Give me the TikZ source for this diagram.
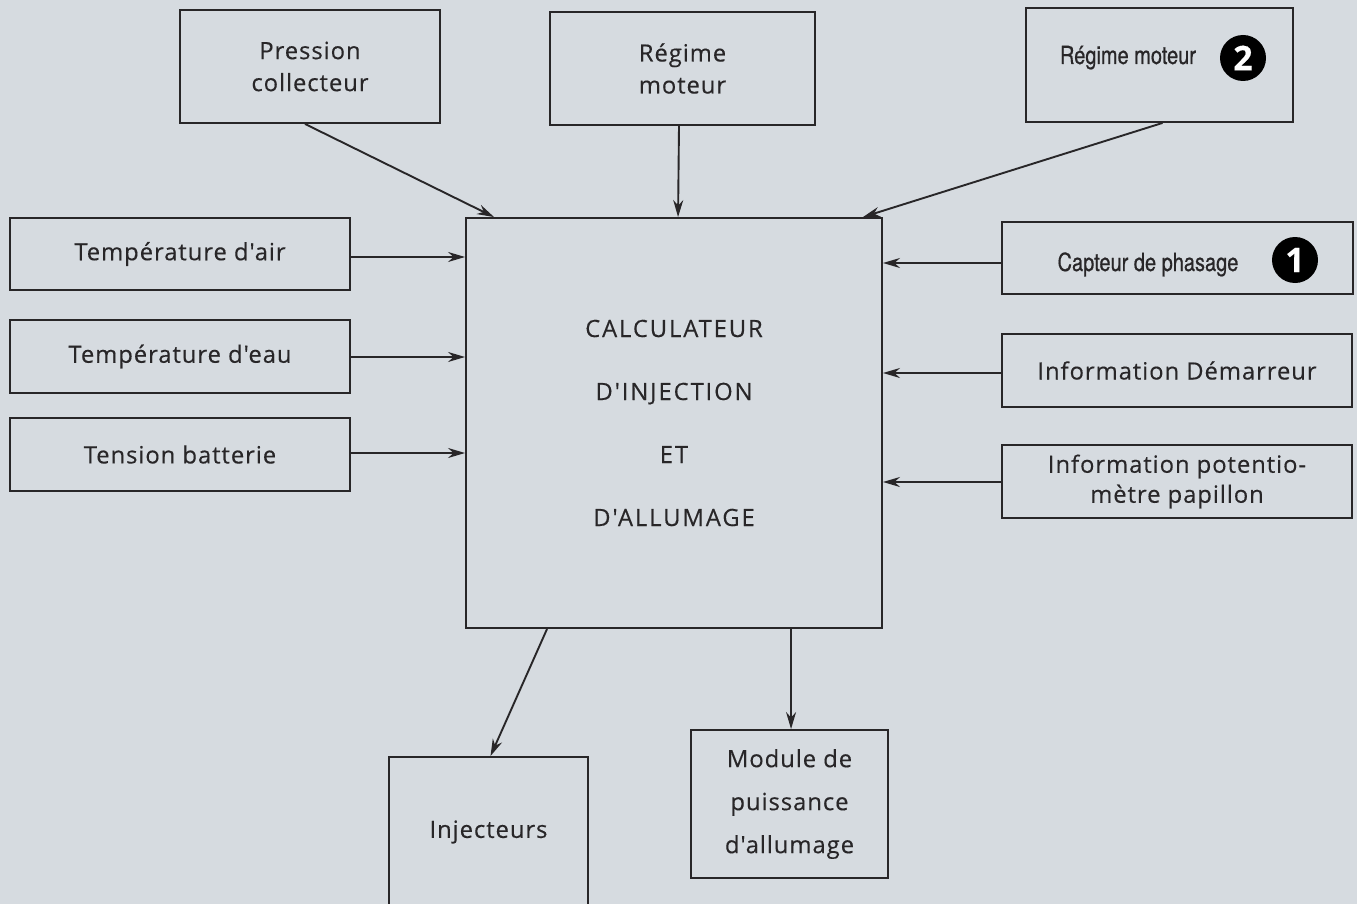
\documentclass[tikz,border=0pt]{standalone}
\usepackage{fontspec}
\setmainfont{Open Sans}[Ligatures=TeXOff, LetterSpace=4, FakeBold=0.3]
\newfontfamily\bigspaced{Open Sans}[Ligatures=TeXOff, LetterSpace=8, FakeBold=0.3]
\newfontfamily\condfont[FakeStretch=0.8, FakeBold=0.6]{TeX Gyre Heros}
\usetikzlibrary{arrows.meta,calc}
\definecolor{bgcol}{RGB}{214,219,224}
\definecolor{ink}{RGB}{40,38,40}
\tikzset{
  box/.style={draw=ink, line width=1.9pt, text=ink, align=center, inner sep=0pt,
              font=\fontsize{23.8}{32}\selectfont},
  cond/.style={text=ink, font=\condfont\fontsize{25}{28}\selectfont, inner sep=0pt},
  num/.style={circle, fill=black, text=white, minimum size=46pt, inner sep=0pt,
              font=\fontsize{34}{34}\selectfont\bfseries},
  link/.style={draw=ink, line width=1.9pt, -{Stealth[length=17pt,width=10pt]}}
}
\begin{document}
\begin{tikzpicture}[x=1pt,y=-1pt]
\fill[bgcol] (0,0) rectangle (1357,904);
\useasboundingbox (0,0) rectangle (1357,904);
% top boxes
\node[box, minimum width=260pt, minimum height=113pt] (pc) at (310,66.5) {Pression\\collecteur};
\node[box, minimum width=265pt, minimum height=113pt] (rm) at (682.5,68.5) {Régime\\moteur};
\node[box, minimum width=267pt, minimum height=114pt] (rm2) at (1159.5,65) {};
\node[cond, anchor=base] (rm2t) at (1128,64) {Régime moteur};
\node[num] (n2) at (1243,58) {2};
% left boxes
\node[box, minimum width=340pt, minimum height=72pt] (ta) at (180,254) {Température d'air};
\node[box, minimum width=340pt, minimum height=73pt] (te) at (180,356.5) {Température d'eau};
\node[box, minimum width=340pt, minimum height=73pt] (tb) at (180,454.5) {Tension batterie};
% main
\node[box, minimum width=416pt, minimum height=410pt, font=\bigspaced\fontsize{23.8}{63}\selectfont] (main) at (674,423)
  {CALCULATEUR\\D'INJECTION\\ET\\D'ALLUMAGE};
% right boxes
\node[box, minimum width=351pt, minimum height=72pt] (cp) at (1177.5,258) {};
\node[cond, anchor=base] (cpt) at (1148,271) {Capteur de phasage};
\node[num] (n1) at (1295,260) {1};
\node[box, minimum width=350pt, minimum height=73pt] (id) at (1177,370.5) {Information Démarreur};
\node[box, minimum width=350pt, minimum height=73pt, font=\fontsize{23.8}{30}\selectfont] (ip) at (1177,481.5) {Information potentio-\\mètre papillon};
% bottom boxes
\node[box, minimum width=199pt, minimum height=150pt] (inj) at (488.5,832) {Injecteurs};
\node[box, minimum width=197pt, minimum height=148pt, font=\fontsize{23.8}{43}\selectfont] (mp) at (789.5,804) {Module de\\puissance\\d'allumage};
% connector anchors on the main block
\coordinate (mb1) at ($(main.south west)+(82,0)$);
\coordinate (mb2) at ($(main.south west)+(326,0)$);
% connectors
\draw[link] ($(pc.south)+(-5,0)$) -- ($(main.north west)+(29,0)$);
\draw[link] ($(rm.south)+(-3.5,0)$) -- ($(main.north west)+(213,0)$);
\draw[link] ($(rm2.south)+(3,0)$) -- ($(main.north east)+(-20,0)$);
\draw[link] ($(ta.east)+(0,3)$) -- ($(ta.east -| main.west)+(0,3)$);
\draw[link] ($(te.east)+(0,0.5)$) -- ($(te.east -| main.west)+(0,0.5)$);
\draw[link] ($(tb.east)+(0,-1.5)$) -- ($(tb.east -| main.west)+(0,-1.5)$);
\draw[link] ($(cp.west)+(0,5)$) -- ($(cp.west -| main.east)+(0,5)$);
\draw[link] ($(id.west)+(0,2.5)$) -- ($(id.west -| main.east)+(0,2.5)$);
\draw[link] ($(ip.west)+(0,0.5)$) -- ($(ip.west -| main.east)+(0,0.5)$);
\draw[link] (mb1) -- ($(inj.north)+(2,0)$);
\draw[link] (mb2) -- (mb2 |- mp.north);
\end{tikzpicture}
\end{document}
